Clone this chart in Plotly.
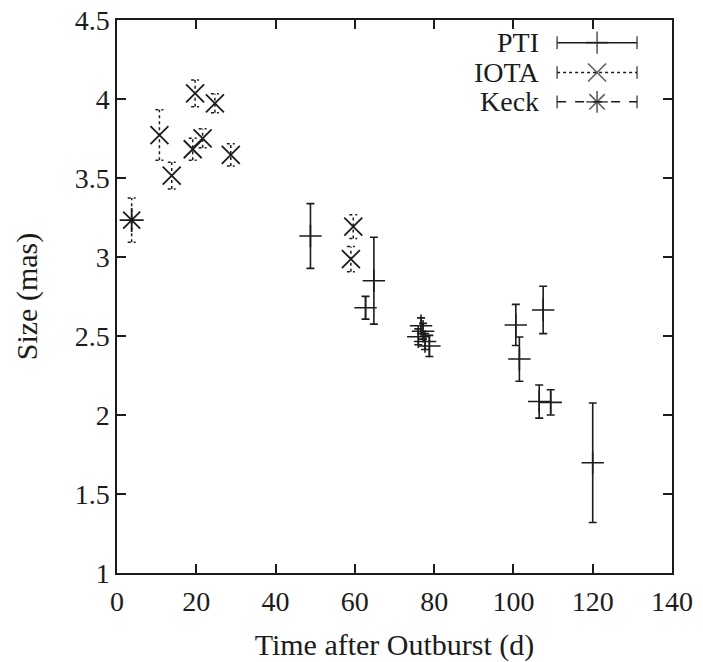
import plotly.graph_objects as go

# ---------------- data ----------------
pti_t = [48.8, 62.7, 64.8, 76.0, 76.7, 77.2, 77.7, 78.8, 100.6, 101.5, 106.5, 107.5, 109.4, 120.0]
pti_size = [3.133, 2.679, 2.85, 2.495, 2.565, 2.53, 2.465, 2.437, 2.57, 2.354, 2.085, 2.665, 2.08, 1.698]
pti_err = [0.205, 0.072, 0.275, 0.05, 0.05, 0.05, 0.05, 0.067, 0.13, 0.14, 0.105, 0.15, 0.08, 0.378]

iota_t = [10.7, 13.8, 19.1, 19.7, 21.6, 24.7, 28.7, 59.0, 59.6]
iota_size = [3.772, 3.515, 3.682, 4.036, 3.751, 3.973, 3.646, 2.987, 3.192]
iota_err = [0.16, 0.085, 0.07, 0.085, 0.06, 0.06, 0.07, 0.08, 0.075]

keck_t = [3.7]
keck_size = [3.234]
keck_err = [0.14]

legend_names = ["PTI", "IOTA", "Keck"]
x_ticks = [0, 20, 40, 60, 80, 100, 120, 140]
y_ticks = [1, 1.5, 2, 2.5, 3, 3.5, 4, 4.5]

INK = "#1c1c1c"
FONT = "Liberation Serif, Times New Roman, serif"
CAP = 1.0  # cap half-width in x units for dotted bars


def dotted_bars(xs, ys, es):
    bx, by = [], []
    for x, y, e in zip(xs, ys, es):
        bx += [x, x, None, x - CAP, x + CAP, None, x - CAP, x + CAP, None]
        by += [y - e, y + e, None, y + e, y + e, None, y - e, y - e, None]
    return bx, by


fig = go.Figure()

# PTI: solid error bars
fig.add_trace(go.Scatter(
    x=pti_t, y=pti_size, mode="markers", showlegend=False,
    marker=dict(symbol="cross-thin", size=16, line=dict(width=1.6, color=INK), color=INK),
    error_y=dict(type="data", array=pti_err, visible=True, color=INK, thickness=1.6, width=4),
))

# IOTA: dotted error bars
bx, by = dotted_bars(iota_t, iota_size, iota_err)
fig.add_trace(go.Scatter(x=bx, y=by, mode="lines", showlegend=False,
                         line=dict(color=INK, width=1.5, dash="dot")))
fig.add_trace(go.Scatter(
    x=iota_t, y=iota_size, mode="markers", showlegend=False,
    marker=dict(symbol="x-thin", size=18, line=dict(width=1.8, color=INK), color=INK),
))

# Keck: dashed error bars
bx, by = dotted_bars(keck_t, keck_size, keck_err)
fig.add_trace(go.Scatter(x=bx, y=by, mode="lines", showlegend=False,
                         line=dict(color=INK, width=1.5, dash="dot")))
fig.add_trace(go.Scatter(
    x=keck_t, y=keck_size, mode="markers", showlegend=False,
    marker=dict(symbol="asterisk", size=20, line=dict(width=1.8, color=INK), color=INK),
))

# ---------------- custom gnuplot-style legend ----------------
lx0, lxc, lx1 = 0.793, 0.865, 0.937
rows = [0.959, 0.905, 0.852]
styles = [("solid", "cross-thin", 16), ("dot", "x-thin", 18), ("dash", "asterisk", 18)]
for name, yy, (dash, sym, sz) in zip(legend_names, rows, styles):
    fig.add_trace(go.Scatter(
        x=[lx0, lxc, lx1], y=[yy, yy, yy], xaxis="x2", yaxis="y2",
        mode="lines+markers", showlegend=False, hoverinfo="skip",
        line=dict(color=INK, width=1.5, dash=dash),
        marker=dict(symbol=["line-ns", sym, "line-ns"], size=[9, sz, 9],
                    line=dict(width=1.6, color=INK), color=INK),
    ))
    fig.add_annotation(x=0.762, y=yy, xref="paper", yref="paper", text=name,
                       showarrow=False, xanchor="right", yanchor="middle", borderpad=0,
                       font=dict(family=FONT, size=28, color=INK))

axis_common = dict(
    showgrid=False, zeroline=False, showline=True, linecolor=INK, linewidth=1.5,
    mirror="ticks", ticks="inside", ticklen=9, tickwidth=1.5, tickcolor=INK,
    tickfont=dict(family=FONT, size=28, color=INK), automargin=False,
)

fig.update_layout(
    width=703, height=662,
    margin=dict(l=117, r=31, t=20, b=89),
    paper_bgcolor="white", plot_bgcolor="white",
    font=dict(family=FONT, size=28, color=INK),
    xaxis=dict(range=[0, 140], tickvals=x_ticks, ticktext=[str(v) for v in x_ticks],
               ticklabelstandoff=3,
               title=dict(text="Time after Outburst (d)", font=dict(family=FONT, size=30, color=INK), standoff=18),
               **axis_common),
    yaxis=dict(range=[1, 4.5], tickvals=y_ticks, ticktext=[f"{v:g}" for v in y_ticks],
               title=dict(text="Size (mas)", font=dict(family=FONT, size=30, color=INK), standoff=28),
               **axis_common),
    xaxis2=dict(domain=[0, 1], range=[0, 1], visible=False, anchor="y2", overlaying="x"),
    yaxis2=dict(domain=[0, 1], range=[0, 1], visible=False, anchor="x2", overlaying="y"),
)

fig.write_html("out.html")
